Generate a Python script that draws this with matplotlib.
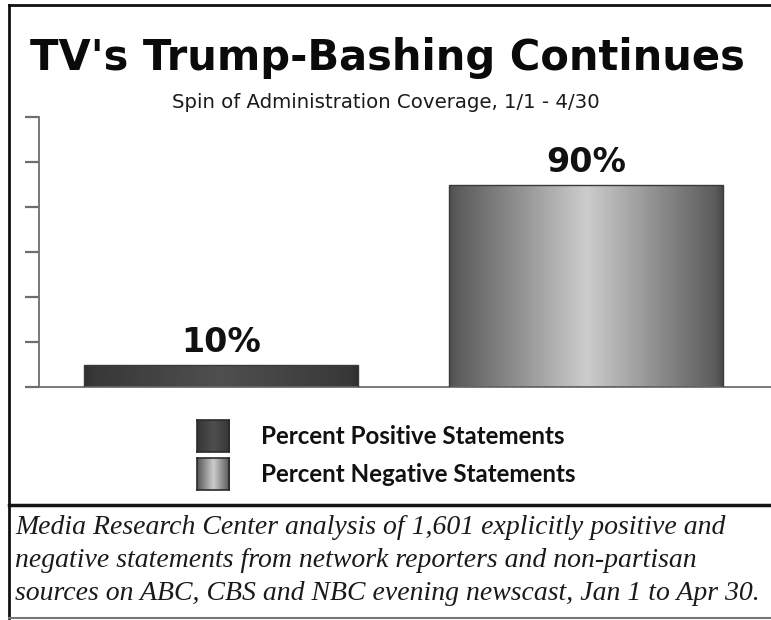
import numpy as np
import matplotlib
matplotlib.use('Agg')
import matplotlib.pyplot as plt
from matplotlib.lines import Line2D

# -----------------------------------------------------------------------------
# data
categories = ['Percent Positive Statements', 'Percent Negative Statements']
values = [10, 90]
value_labels = ['10%', '90%']
y_ticks = [0, 20, 40, 60, 80, 100, 120]

title = "TV's Trump-Bashing Continues"
subtitle = 'Spin of Administration Coverage, 1/1 - 4/30'
footnote = ['Media Research Center analysis of 1,601 explicitly positive and',
            'negative statements from network reporters and non-partisan',
            'sources on ABC, CBS and NBC evening newscast, Jan 1 to Apr 30.']

# -----------------------------------------------------------------------------
# horizontal shading profiles (position across bar -> grey level)
shade_pos = [0.0, 0.03, 0.5, 0.97, 1.0]
shades = [
    [0.19, 0.22, 0.31, 0.22, 0.19],   # dark bar
    [0.31, 0.36, 0.80, 0.36, 0.28],   # light "cylinder" bar
]


def gradient(profile, n=256):
    xs = np.linspace(0, 1, n)
    g = np.interp(xs, shade_pos, profile)
    return np.tile(g, (2, 1))


W, H = 771, 620
fig = plt.figure(figsize=(W / 100, H / 100), dpi=100)
fig.patch.set_facecolor('white')

ax = fig.add_axes([39 / W, (H - 387) / H, 1 - 39 / W, (387 - 117) / H])

xpos = np.arange(len(values))
bars = ax.bar(xpos, values, width=0.75, color='none',
              edgecolor='#3a3a3a', linewidth=1.0, zorder=3)

for bar, prof in zip(bars, shades):
    x0 = bar.get_x()
    x1 = x0 + bar.get_width()
    im = ax.imshow(gradient(prof), cmap='gray', vmin=0, vmax=1,
                   extent=[x0, x1, 0, bar.get_height()],
                   aspect='auto', interpolation='bicubic', zorder=2)
    im.set_clip_path(bar)

for x, v, lab in zip(xpos, values, value_labels):
    ax.text(x, v + 2.5, lab, ha='center', va='bottom',
            fontsize=24, fontweight='bold', family='DejaVu Sans',
            color='#111111')

ax.set_xlim(-0.498, 1.505)
ax.set_ylim(0, 120)
ax.set_yticks(y_ticks)
ax.set_yticklabels([])
ax.set_xticks([])

for side in ['top', 'right']:
    ax.spines[side].set_visible(False)
for side in ['left', 'bottom']:
    ax.spines[side].set_color('#6e6e6e')
    ax.spines[side].set_linewidth(1.3)
ax.tick_params(axis='y', direction='out', length=10, width=1.6,
               color='#6e6e6e')
ax.patch.set_alpha(0)

# -----------------------------------------------------------------------------
# titles
fig.text(0.5 * (30 + 745) / W, 1 - 58 / H, title, ha='center', va='center',
         fontsize=30, fontweight='bold', family='DejaVu Sans',
         color='#0a0a0a')
fig.text(0.5 * (172 + 600) / W, 1 - 103 / H, subtitle, ha='center',
         va='center', fontsize=14.2, family='DejaVu Sans', color='#1a1a1a')

# legend
leg_y = [436, 474]
for cy, prof, lab in zip(leg_y, shades, categories):
    lax = fig.add_axes([197 / W, (H - cy - 16) / H, 32 / W, 32 / H])
    lax.imshow(gradient(prof), cmap='gray', vmin=0, vmax=1,
               aspect='auto', interpolation='bicubic')
    lax.set_xticks([])
    lax.set_yticks([])
    for s in lax.spines.values():
        s.set_color('#2a2a2a')
        s.set_linewidth(1.2)
    fig.text(261 / W, 1 - cy / H, lab, ha='left', va='center',
             fontsize=17.4, fontweight='bold', family='Lato', color='#111111')

# separator and footnote
fig.add_artist(Line2D([9 / W, 1], [1 - 505 / H, 1 - 505 / H],
                      transform=fig.transFigure, color='#151515',
                      linewidth=2.5))
for i, line in enumerate(footnote):
    fig.text(15 / W, 1 - (527 + 33.5 * i) / H, line, ha='left', va='center',
             fontsize=20, style='italic', family='Liberation Serif',
             color='#1a1a1a')

# outer frame
fig.add_artist(Line2D([9 / W, 9 / W], [1 - 5 / H, 1 - 618 / H],
                      transform=fig.transFigure, color='#111111',
                      linewidth=2))
fig.add_artist(Line2D([9 / W, 1], [1 - 5 / H, 1 - 5 / H],
                      transform=fig.transFigure, color='#111111',
                      linewidth=2))
fig.add_artist(Line2D([9 / W, 1], [1 - 618 / H, 1 - 618 / H],
                      transform=fig.transFigure, color='#777777',
                      linewidth=1.5))

fig.savefig('out.png', dpi=100)
